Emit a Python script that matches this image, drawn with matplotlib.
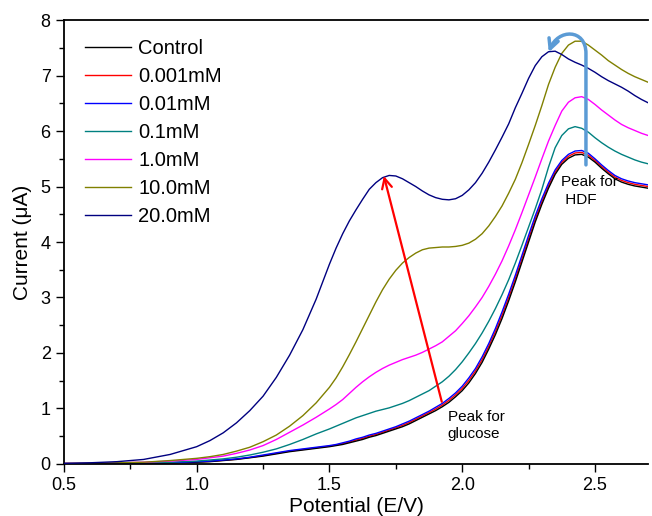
import numpy as np
import matplotlib
matplotlib.use("Agg")
import matplotlib.pyplot as plt
from matplotlib.path import Path
from matplotlib.patches import FancyArrowPatch
from matplotlib.ticker import MultipleLocator, FormatStrFormatter

plt.rcParams['font.family'] = ['Liberation Sans', 'DejaVu Sans']

# potential (E/V), coarse below 1.5, finer above
potential = [0.5, 0.6, 0.7, 0.8, 0.9, 1.0, 1.05, 1.1, 1.15, 1.2,
             1.25, 1.3, 1.35, 1.4, 1.45, 1.5, 1.525, 1.55, 1.575, 1.6,
             1.625, 1.65, 1.675, 1.7, 1.725, 1.75, 1.775, 1.8, 1.825, 1.85,
             1.875, 1.9, 1.925, 1.95, 1.975, 2.0, 2.025, 2.05, 2.075, 2.1,
             2.125, 2.15, 2.175, 2.2, 2.225, 2.25, 2.275, 2.3, 2.325, 2.35,
             2.375, 2.4, 2.425, 2.45, 2.475, 2.5, 2.525, 2.55, 2.575, 2.6,
             2.625, 2.65, 2.675, 2.7]

# current (uA)
control = [0.0, 0.0, 0.0, 0.01, 0.02, 0.03, 0.04, 0.06, 0.08, 0.11,
           0.14, 0.18, 0.22, 0.25, 0.28, 0.31, 0.33, 0.35, 0.38, 0.41,
           0.44, 0.48, 0.51, 0.55, 0.59, 0.63, 0.67, 0.72, 0.78, 0.84,
           0.9, 0.96, 1.03, 1.11, 1.21, 1.32, 1.46, 1.63, 1.83, 2.07,
           2.33, 2.62, 2.94, 3.28, 3.64, 4.0, 4.36, 4.68, 4.97, 5.22,
           5.4, 5.51, 5.57, 5.58, 5.53, 5.44, 5.33, 5.23, 5.14, 5.08,
           5.04, 5.01, 4.99, 4.97]
c_0001 = [0.0, 0.0, 0.01, 0.01, 0.02, 0.035, 0.045, 0.065, 0.085, 0.115,
          0.15, 0.19, 0.23, 0.26, 0.29, 0.32, 0.34, 0.365, 0.395, 0.43,
          0.46, 0.5, 0.53, 0.57, 0.61, 0.65, 0.695, 0.745, 0.805, 0.865,
          0.925, 0.99, 1.06, 1.145, 1.245, 1.36, 1.505, 1.675, 1.88, 2.12,
          2.385, 2.68, 3.0, 3.34, 3.7, 4.06, 4.415, 4.73, 5.015, 5.26,
          5.435, 5.545, 5.605, 5.615, 5.565, 5.47, 5.36, 5.26, 5.17, 5.11,
          5.07, 5.04, 5.02, 5.0]
c_001 = [0.0, 0.0, 0.01, 0.01, 0.02, 0.04, 0.05, 0.07, 0.09, 0.12,
         0.16, 0.2, 0.24, 0.27, 0.3, 0.33, 0.35, 0.38, 0.41, 0.45,
         0.48, 0.52, 0.55, 0.59, 0.63, 0.67, 0.72, 0.77, 0.83, 0.89,
         0.95, 1.02, 1.09, 1.18, 1.28, 1.4, 1.55, 1.72, 1.93, 2.17,
         2.44, 2.74, 3.06, 3.4, 3.76, 4.12, 4.47, 4.78, 5.06, 5.3,
         5.47, 5.58, 5.64, 5.65, 5.6, 5.5, 5.39, 5.29, 5.2, 5.14,
         5.1, 5.07, 5.05, 5.03]
c_01 = [0.0, 0.01, 0.01, 0.02, 0.03, 0.05, 0.07, 0.09, 0.12, 0.16,
        0.21, 0.27, 0.35, 0.44, 0.54, 0.63, 0.68, 0.73, 0.78, 0.83,
        0.87, 0.91, 0.95, 0.98, 1.01, 1.05, 1.09, 1.14, 1.2, 1.26,
        1.32, 1.4, 1.48, 1.58, 1.7, 1.84, 2.0, 2.17, 2.36, 2.57,
        2.8, 3.05, 3.32, 3.62, 3.94, 4.27, 4.6, 4.95, 5.35, 5.7,
        5.92, 6.04, 6.08, 6.05, 5.98, 5.88, 5.79, 5.71, 5.64, 5.58,
        5.53, 5.48, 5.44, 5.41]
c_1 = [0.01, 0.01, 0.02, 0.03, 0.05, 0.08, 0.11, 0.14, 0.19, 0.25,
       0.33, 0.44, 0.57, 0.7, 0.84, 0.99, 1.07, 1.16, 1.27, 1.38,
       1.48, 1.57, 1.65, 1.72, 1.78, 1.83, 1.88, 1.92, 1.96, 2.01,
       2.07, 2.13, 2.2, 2.3, 2.4, 2.53, 2.67, 2.83, 3.0, 3.2,
       3.42, 3.66, 3.93, 4.22, 4.53, 4.85, 5.17, 5.5, 5.82, 6.1,
       6.36, 6.52, 6.6, 6.62, 6.57, 6.48, 6.38, 6.29, 6.2, 6.12,
       6.06, 6.01, 5.96, 5.92]
c_10 = [0.01, 0.01, 0.02, 0.03, 0.06, 0.1, 0.13, 0.17, 0.23, 0.3,
        0.4, 0.52, 0.68, 0.87, 1.1, 1.38, 1.55, 1.75, 1.97, 2.2,
        2.44, 2.68, 2.92, 3.14, 3.33, 3.49, 3.62, 3.72, 3.8, 3.86,
        3.89, 3.9, 3.91, 3.91, 3.92, 3.94, 3.98, 4.05, 4.15, 4.29,
        4.46, 4.65, 4.88, 5.13, 5.43, 5.76, 6.1, 6.46, 6.84, 7.15,
        7.4, 7.55, 7.62, 7.62, 7.55, 7.46, 7.37, 7.27, 7.19, 7.11,
        7.04, 6.98, 6.93, 6.88]
c_20 = [0.01, 0.02, 0.04, 0.08, 0.17, 0.31, 0.42, 0.56, 0.74, 0.96,
        1.22, 1.56, 1.96, 2.42, 2.97, 3.6, 3.89, 4.15, 4.38, 4.58,
        4.77, 4.95, 5.07, 5.16, 5.2, 5.19, 5.14, 5.07, 5.0, 4.92,
        4.85, 4.8, 4.77, 4.76, 4.78, 4.84, 4.94, 5.07, 5.24, 5.44,
        5.66, 5.89, 6.13, 6.42, 6.68, 6.95, 7.18, 7.34, 7.43, 7.44,
        7.38, 7.3, 7.24, 7.19, 7.13, 7.06, 6.98, 6.91, 6.85, 6.79,
        6.72, 6.64, 6.57, 6.51]

labels = ['Control', '0.001mM', '0.01mM', '0.1mM', '1.0mM', '10.0mM', '20.0mM']
colors = ['black', 'red', 'blue', '#008080', '#ff00ff', '#808000', '#000080']
series = [control, c_0001, c_001, c_01, c_1, c_10, c_20]
zorders = [2.1, 2.0, 2.2, 2.3, 2.4, 2.5, 2.6]

fig = plt.figure(figsize=(6.52, 5.16), dpi=100)
ax = fig.add_axes([0.098, 0.101, 0.896, 0.860])

for y, lab, col, z in zip(series, labels, colors, zorders):
    ax.plot(potential, y, color=col, lw=1.0, label=lab, zorder=z)

ax.set_xlim(0.5, 2.7)
ax.set_ylim(0, 8)
ax.xaxis.set_major_locator(MultipleLocator(0.5))
ax.xaxis.set_minor_locator(MultipleLocator(0.25))
ax.yaxis.set_major_locator(MultipleLocator(1))
ax.yaxis.set_minor_locator(MultipleLocator(0.5))
ax.xaxis.set_major_formatter(FormatStrFormatter('%.1f'))
ax.tick_params(which='major', direction='out', length=6, width=1, labelsize=13)
ax.tick_params(which='minor', direction='out', length=3.5, width=1)
ax.spines['right'].set_visible(False)
for s in ['left', 'bottom', 'top']:
    ax.spines[s].set_linewidth(1.3)

ax.set_xlabel('Potential (E/V)', fontsize=15, labelpad=2)
ax.set_ylabel('Current (\u03bcA)', fontsize=15, labelpad=6)

ax.legend(loc='upper left', frameon=False, fontsize=14.5, handlelength=2.3,
          handletextpad=0.35, labelspacing=0.45, borderaxespad=0.3,
          bbox_to_anchor=(0.012, 0.99))

# arrow for the glucose peak
ax.annotate('', xy=(1.705, 5.19), xytext=(1.923, 1.12),
            arrowprops=dict(arrowstyle='->', color='red', lw=1.6,
                            mutation_scale=18, shrinkA=0, shrinkB=0))
ax.text(1.945, 0.97, 'Peak for\nglucose', fontsize=11, va='top', ha='left',
        linespacing=1.3)

# curved arrow for the HDF peak
verts = [(2.466, 5.39), (2.466, 7.4), (2.466, 7.85), (2.36, 7.85), (2.326, 7.42)]
codes = [Path.MOVETO, Path.LINETO, Path.CURVE4, Path.CURVE4, Path.CURVE4]
hdf = FancyArrowPatch(path=Path(verts, codes), arrowstyle='->,head_length=7,head_width=3.5',
                      color='#5b9bd5', lw=2.5, zorder=3)
ax.add_patch(hdf)
ax.text(2.372, 5.2, 'Peak for\n HDF', fontsize=11, va='top', ha='left',
        linespacing=1.3)

fig.savefig('out.png', dpi=100)
